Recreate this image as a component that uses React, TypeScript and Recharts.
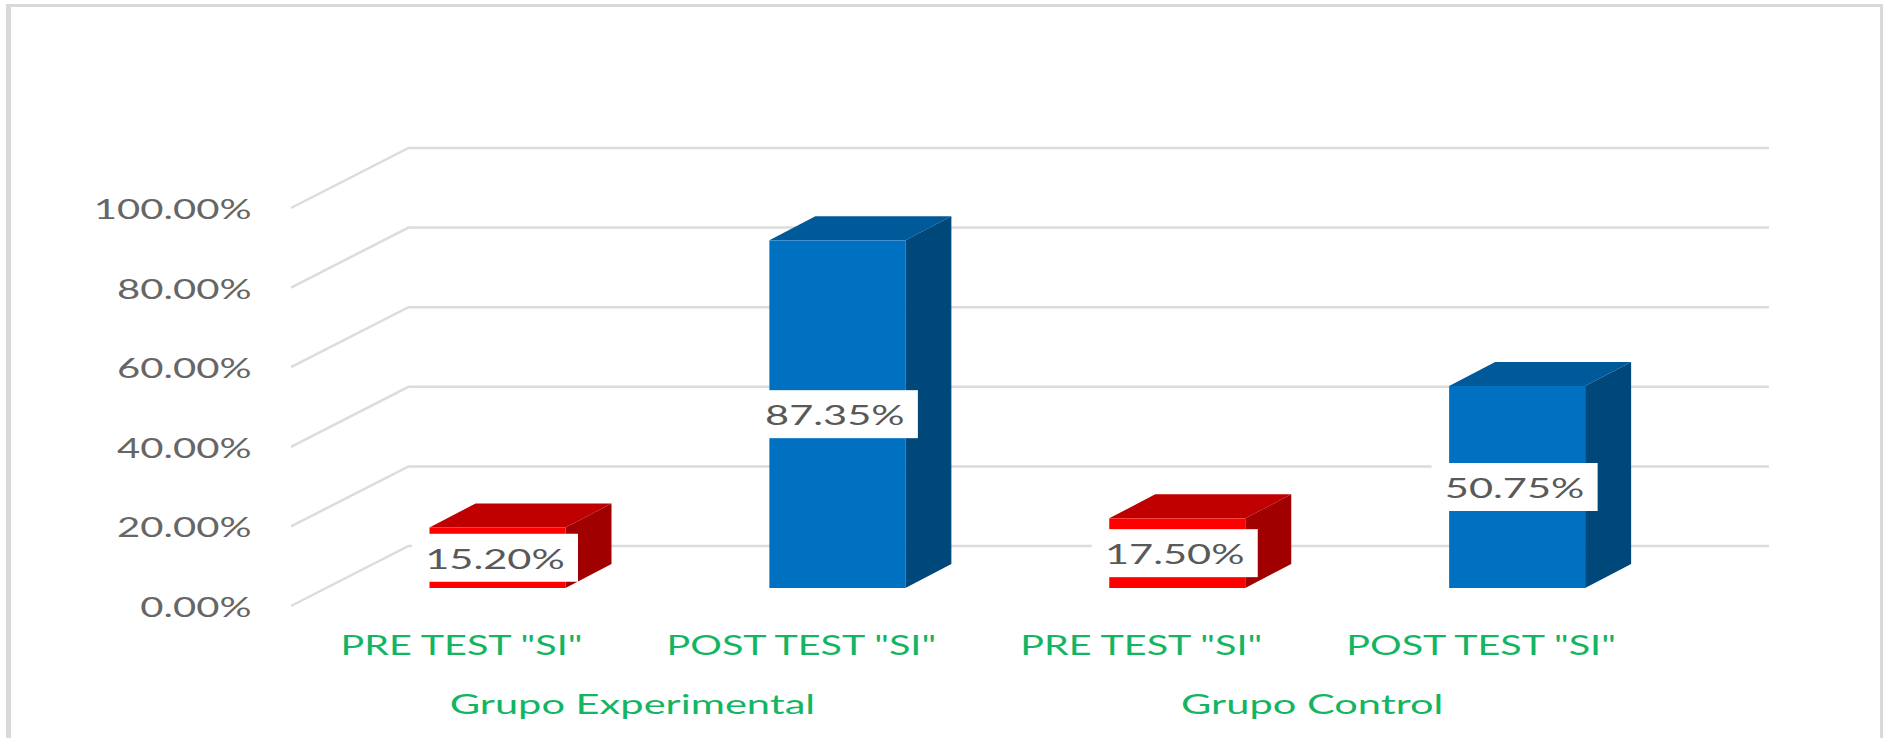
import React from "react"
import { BarChart, Bar, XAxis, YAxis, CartesianGrid, LabelList } from "recharts"

const categorias = ['PRE TEST "SI"', 'POST TEST "SI"', 'PRE TEST "SI"', 'POST TEST "SI"']
const grupos = ["Grupo Experimental", "Grupo Experimental", "Grupo Control", "Grupo Control"]
const valores = [15.2, 87.35, 17.5, 50.75]
const marcasY = [0, 20, 40, 60, 80, 100]

const data = categorias.map((categoria, i) => ({
  categoria,
  grupo: grupos[i],
  valor: valores[i],
}))

// caras de la barra: frente, tapa, lateral
const ROJO = { front: "#FF0000", top: "#C00000", side: "#A00000" }
const AZUL = { front: "#0070C0", top: "#005A9A", side: "#00477A" }
const VERDE = "#14B562"

// profundidad del falso 3D
const DX = 46
const DY = 24
const FONT = "Lato, sans-serif"

const fmt = (v: number) => `${v.toFixed(2)}%`

// texto ensanchado, la imagen original esta estirada en horizontal
const Stretched = ({ x, y, fill, stretch, anchor, children }: any) => (
  <text
    transform={`translate(${x},${y}) scale(${stretch},1)`}
    fill={fill}
    fontSize={26}
    fontFamily={FONT}
    textAnchor={anchor}
    dominantBaseline="central"
  >
    {children}
  </text>
)

const Caja3D = (props: any) => {
  const { x, y, width, height, index } = props
  const c = index % 2 === 0 ? ROJO : AZUL
  const r = x + width
  const b = y + height
  return (
    <g>
      <polygon points={`${x},${y} ${x + DX},${y - DY} ${r + DX},${y - DY} ${r},${y}`} fill={c.top} />
      <polygon points={`${r},${y} ${r + DX},${y - DY} ${r + DX},${b - DY} ${r},${b}`} fill={c.side} />
      <rect x={x} y={y} width={width} height={height} fill={c.front} />
    </g>
  )
}

const Etiqueta = (props: any) => {
  const { x, y, width, height, value } = props
  const cx = x + width / 2 - 2.5
  const cy = y + height / 2
  return (
    <g>
      <rect x={cx - 83} y={cy - 24} width={166} height={48} fill="#fff" />
      <Stretched x={cx} y={cy + 1} fill="#595959" stretch={1.6} anchor="middle">
        {fmt(value)}
      </Stretched>
    </g>
  )
}

// linea de rejilla con el quiebre de la pared izquierda
const LineaRejilla = (props: any) => {
  const { x1, x2, y1 } = props
  return (
    <polyline
      points={`${x1 - 36.5},${y1 + 18} ${x1 + 81},${y1 - 42} ${x2 + 82},${y1 - 42}`}
      fill="none"
      stroke="#DCDCDC"
      strokeWidth={2.5}
    />
  )
}

const TickY = ({ x, y, payload }: any) => (
  <Stretched x={x - 68} y={y + 19} fill="#666666" stretch={1.54} anchor="end">
    {fmt(payload.value)}
  </Stretched>
)

const TickCategoria = ({ x, y, payload }: any) => (
  <Stretched x={x - 36} y={y + 49} fill={VERDE} stretch={1.52} anchor="middle">
    {payload.value}
  </Stretched>
)

// el nombre del grupo va centrado entre sus dos barras
const TickGrupo = ({ x, y, payload, index }: any) =>
  index % 2 === 0 ? (
    <Stretched x={x + 170 - 35} y={y + 33} fill={VERDE} stretch={1.6} anchor="middle">
      {payload.value}
    </Stretched>
  ) : null

export default function App() {
  return (
    <div style={{ position: "absolute", left: 0, top: 0, width: 1883, height: 738, overflow: "hidden", background: "#fff" }}>
      <div
        style={{
          position: "absolute",
          left: 6,
          top: 4,
          width: 1869,
          height: 800,
          borderLeft: "5px solid #D9D9D9",
          borderTop: "3px solid #D9D9D9",
          borderRight: "3px solid #D9D9D9",
        }}
      />
      <div style={{ position: "absolute", left: 0, top: 0 }}>
        <BarChart
          width={1883}
          height={738}
          data={data}
          barSize={136}
          margin={{ top: 190, right: 196, bottom: 0, left: 0 }}
        >
          <CartesianGrid vertical={false} horizontal={(p: any) => <LineaRejilla key={p.key} {...p} />} />
          <XAxis dataKey="categoria" axisLine={false} tickLine={false} interval={0} height={75} tick={<TickCategoria />} />
          <XAxis
            xAxisId="grupo"
            dataKey="grupo"
            axisLine={false}
            tickLine={false}
            interval={0}
            height={75}
            tick={<TickGrupo />}
          />
          <YAxis
            width={327.5}
            domain={[0, 100]}
            ticks={marcasY}
            axisLine={false}
            tickLine={false}
            tick={<TickY />}
          />
          <Bar dataKey="valor" shape={<Caja3D />} isAnimationActive={false}>
            <LabelList dataKey="valor" content={<Etiqueta />} />
          </Bar>
        </BarChart>
      </div>
    </div>
  )
}
